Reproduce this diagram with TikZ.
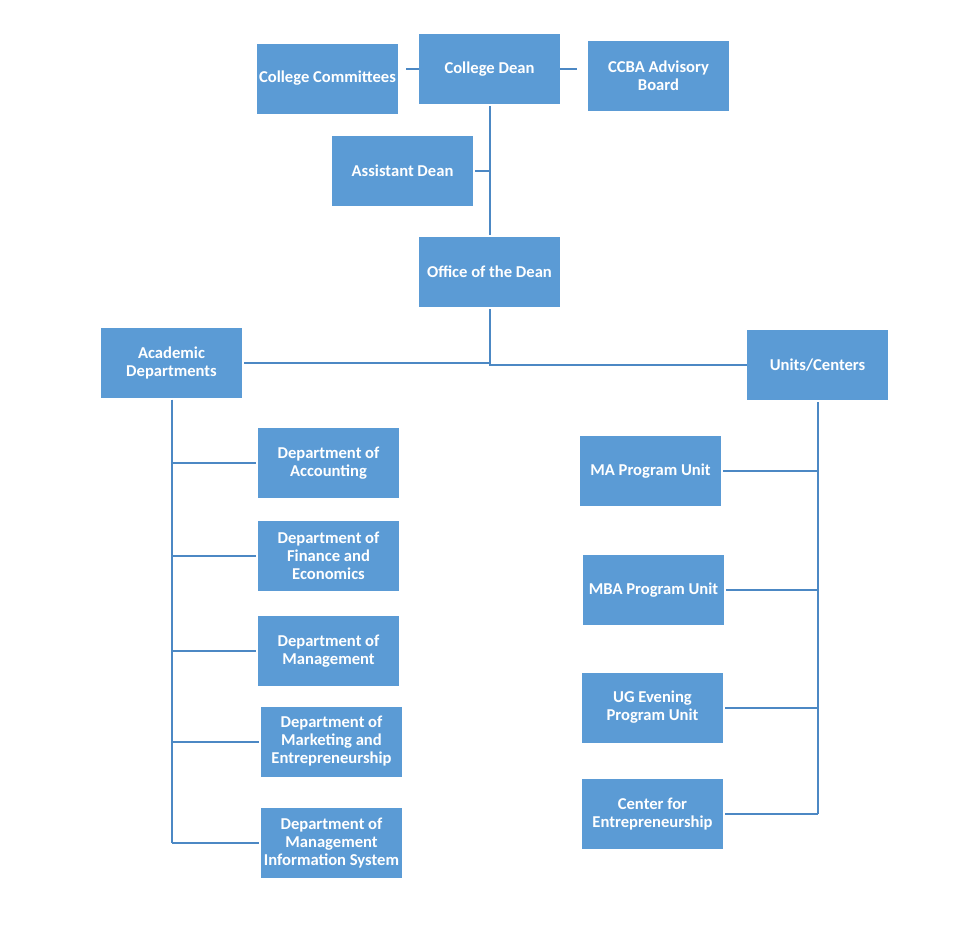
\documentclass[tikz,border=0pt]{standalone}
\usepackage{fontspec}
\setmainfont{Carlito}
\definecolor{boxblue}{RGB}{91,155,213}
\definecolor{lineblue}{RGB}{76,136,196}
\begin{document}
\begin{tikzpicture}[x=1pt,y=-1pt,
  box/.style={fill=boxblue, draw=none, text=white, minimum width=141pt, minimum height=70pt, inner sep=1pt, align=center, font=\fontsize{16.6}{18}\selectfont\bfseries},
  conn/.style={draw=lineblue, line width=2pt}]
\useasboundingbox (0,0) rectangle (973,948);
\node[box] (cc) at (327.5,78.5) {College Committees};
\node[box] (cd) at (489.5,69) {College Dean};
\node[box] (ccba) at (658.5,75.5) {CCBA Advisory\\Board};
\node[box] (ad) at (402.5,170.5) {Assistant Dean};
\node[box] (od) at (489.5,272) {Office of the Dean};
\node[box] (acad) at (171.5,362.5) {Academic\\Departments};
\node[box] (units) at (817.5,365) {Units/Centers};
\node[box] (acc) at (328.5,463) {Department of\\Accounting};
\node[box] (fin) at (328.5,555.5) {Department of\\Finance and\\Economics};
\node[box] (mgmt) at (328.5,651) {Department of\\Management};
\node[box] (mkt) at (331.5,741.5) {Department of\\Marketing and\\Entrepreneurship};
\node[box] (mis) at (331.5,843) {Department of\\Management\\Information System};
\node[box] (ma) at (650.5,471) {MA Program Unit};
\node[box] (mba) at (653.5,590) {MBA Program Unit};
\node[box] (ug) at (652.5,707.5) {UG Evening\\Program Unit};
\node[box] (cen) at (652.5,814) {Center for\\Entrepreneurship};
% top
\draw[conn] (cd.west) -- ([xshift=8pt]cc.east |- cd.west);
\draw[conn] (cd.east) -- ([xshift=-11pt]ccba.west |- cd.east);
\draw[conn, shorten <=2pt, shorten >=2pt] (cd.south) -- (od.north);
\draw[conn, shorten <=2pt] (ad.east) -- (cd.south |- ad.east);
% office
\draw[conn, shorten <=2pt] (od.south) -- (od.south |- units.west) -- (units.west);
\draw[conn, shorten <=2pt] (acad.east) -- (od.south |- acad.east);
% academic
\draw[conn, shorten <=2pt] (acad.south) -- (acad.south |- mis.west);
\foreach \n in {acc,fin,mgmt,mkt,mis}
  \draw[conn, shorten >=2pt] (acad.south |- \n.west) -- (\n.west);
% units
\draw[conn, shorten <=2pt] (units.south) -- (units.south |- cen.east);
\foreach \n in {ma,mba,ug,cen}
  \draw[conn, shorten <=2pt] (\n.east) -- (units.south |- \n.east);
\end{tikzpicture}
\end{document}
